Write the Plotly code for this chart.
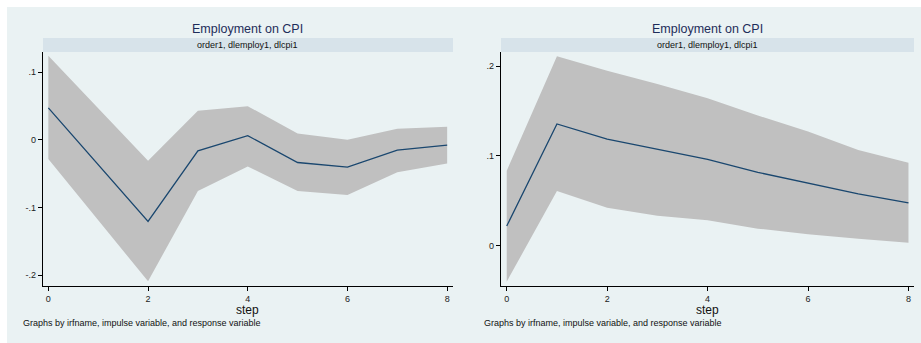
import plotly.graph_objects as go

W, H = 921, 343

steps = [0, 1, 2, 3, 4, 5, 6, 7, 8]

# Panel 1: impulse response with confidence band
irf_a = [0.047, -0.0365, -0.1207, -0.0163, 0.006, -0.0336, -0.0405, -0.0153, -0.0079]
upper_a = [0.124, 0.0465, -0.031, 0.043, 0.0496, 0.0093, 0.0, 0.0163, 0.0193]
lower_a = [-0.0286, -0.119, -0.209, -0.0756, -0.0395, -0.0756, -0.0815, -0.048, -0.035]

# Panel 2
irf_b = [0.0219, 0.1355, 0.1185, 0.107, 0.0962, 0.0817, 0.0695, 0.0576, 0.0476]
upper_b = [0.0835, 0.211, 0.1948, 0.18, 0.164, 0.145, 0.127, 0.1066, 0.0924]
lower_b = [-0.040, 0.0609, 0.0423, 0.0334, 0.0283, 0.019, 0.0127, 0.0078, 0.0033]

y_ticks_a = [0.1, 0.0, -0.1, -0.2]
y_text_a = [".1", "0", "-.1", "-.2"]
y_ticks_b = [0.2, 0.1, 0.0]
y_text_b = [".2", ".1", "0"]
x_ticks = [0, 2, 4, 6, 8]

title_text = "Employment on CPI"
subtitle_text = "order1, dlemploy1, dlcpi1"
note_text = "Graphs by irfname, impulse variable, and response variable"
x_title = "step"

BG = "#EAF2F3"
STRIP = "#D7E3EA"
BAND = "#C0C0C0"
LINE = "#1A476F"
TITLE_C = "#1E2D5A"
FONT = "Liberation Sans, Arial, sans-serif"


def px(x):
    return x / W


def py(y):
    return 1 - y / H


panels = [
    dict(xa="x", ya="y", l=43, r=452.5, t=52, b=286, xr=[-0.107, 8.107], yr=[-0.216, 0.1296],
         irf=irf_a, up=upper_a, lo=lower_a, yt=y_ticks_a, ytt=y_text_a, note_x=21),
    dict(xa="x2", ya="y2", l=501, r=913.5, t=52, b=285.7, xr=[-0.114, 8.1], yr=[-0.0445, 0.2156],
         irf=irf_b, up=upper_b, lo=lower_b, yt=y_ticks_b, ytt=y_text_b, note_x=481.5),
]

fig = go.Figure()
shapes = [
    dict(type="rect", xref="paper", yref="paper", x0=px(7), x1=1, y0=0, y1=py(7),
         fillcolor=BG, line_width=0, layer="below"),
]
annotations = []
layout_axes = {}

for i, p in enumerate(panels):
    fig.add_trace(go.Scatter(
        x=steps + steps[::-1], y=p["up"] + p["lo"][::-1], fill="toself",
        fillcolor=BAND, line=dict(width=0), mode="lines", hoverinfo="skip",
        xaxis=p["xa"], yaxis=p["ya"], showlegend=False))
    fig.add_trace(go.Scatter(
        x=steps, y=p["irf"], mode="lines", line=dict(color=LINE, width=1.3),
        xaxis=p["xa"], yaxis=p["ya"], showlegend=False))

    suffix = "" if i == 0 else "2"
    layout_axes["xaxis" + suffix] = dict(
        domain=[px(p["l"]), px(p["r"])], range=p["xr"], anchor=p["ya"],
        tickvals=x_ticks, ticktext=[str(v) for v in x_ticks], ticks="outside",
        ticklen=4, tickwidth=1, tickcolor="#000", showline=True, linecolor="#000",
        linewidth=1.3, showgrid=False, zeroline=False,
        tickfont=dict(size=9, color="#222", family=FONT))
    layout_axes["yaxis" + suffix] = dict(
        domain=[py(p["b"]), py(p["t"])], range=p["yr"], anchor=p["xa"],
        tickvals=p["yt"], ticktext=p["ytt"], ticks="outside", ticklen=4,
        tickwidth=1, tickcolor="#000", showline=True, linecolor="#000",
        linewidth=1.3, showgrid=True, gridcolor=BG, gridwidth=1, zeroline=False,
        tickfont=dict(size=9, color="#222", family=FONT))

    # subtitle strip above the plot area
    shapes.append(dict(type="rect", xref="paper", yref="paper",
                       x0=px(p["l"]), x1=px(p["r"] + 0.5), y0=py(52), y1=py(38),
                       fillcolor=STRIP, line_width=0, layer="below"))
    cx = px((p["l"] + p["r"]) / 2)
    annotations += [
        dict(x=cx, y=py(29), xref="paper", yref="paper", text=title_text,
             showarrow=False, xanchor="center", yanchor="middle",
             font=dict(size=12.5, color=TITLE_C, family=FONT)),
        dict(x=cx, y=py(45), xref="paper", yref="paper", text=subtitle_text,
             showarrow=False, xanchor="center", yanchor="middle",
             font=dict(size=9, color="#111", family=FONT)),
        dict(x=cx, y=py(310), xref="paper", yref="paper", text=x_title,
             showarrow=False, xanchor="center", yanchor="middle",
             font=dict(size=12, color="#111", family=FONT)),
        dict(x=px(p["note_x"]), y=py(322.5), xref="paper", yref="paper", text=note_text,
             showarrow=False, xanchor="left", yanchor="middle",
             font=dict(size=9, color="#111", family=FONT)),
    ]

fig.update_layout(
    width=W, height=H, margin=dict(l=0, r=0, t=0, b=0),
    paper_bgcolor="white", plot_bgcolor="white",
    shapes=shapes, annotations=annotations, showlegend=False,
    **layout_axes,
)

fig.write_html("out.html", config={"displayModeBar": False})
